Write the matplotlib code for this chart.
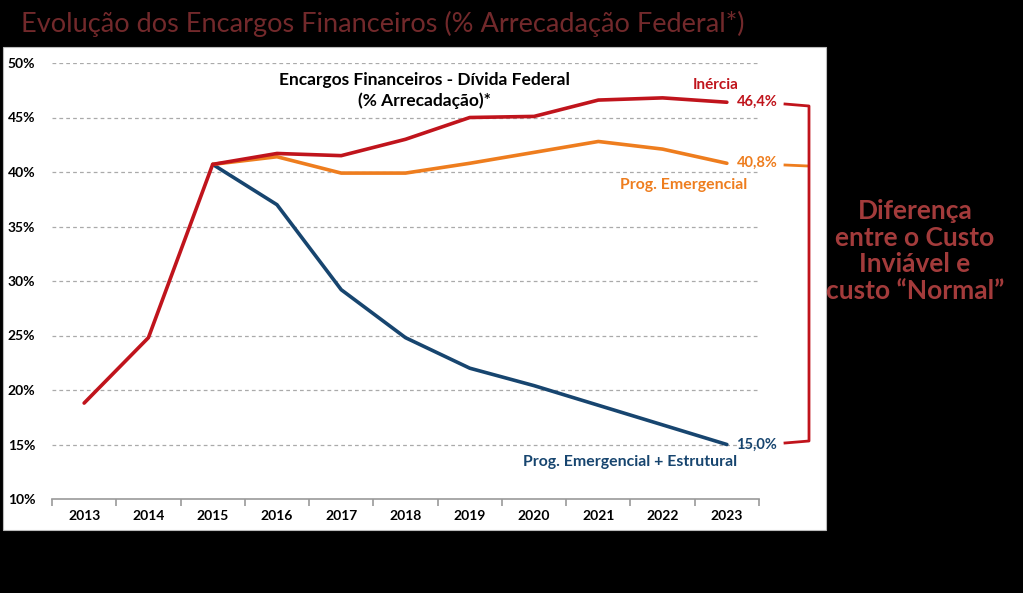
import numpy as np
import matplotlib.pyplot as plt
from matplotlib.patches import Rectangle
from matplotlib.lines import Line2D

anos = ["2013", "2014", "2015", "2016", "2017", "2018", "2019", "2020", "2021", "2022", "2023"]
inercia = [18.8, 24.8, 40.7, 41.7, 41.5, 43.0, 45.0, 45.1, 46.6, 46.8, 46.4]
emergencial = [None, None, 40.7, 41.4, 39.9, 39.9, 40.8, 41.8, 42.8, 42.1, 40.8]
estrutural = [None, None, 40.7, 37.0, 29.2, 24.8, 22.0, 20.4, 18.6, 16.8, 15.0]
yticks = [10, 15, 20, 25, 30, 35, 40, 45, 50]

VERM = "#c0141c"
LAR = "#ee7d1e"
AZUL = "#17456f"
TIT = "#72292b"

plt.rcParams['font.family'] = ['Lato', 'DejaVu Sans']

W, H = 1023, 593
fig = plt.figure(figsize=(W / 100, H / 100), dpi=100)
fig.patch.set_facecolor("black")

# painel branco atras do grafico
fig.patches.append(Rectangle((3 / W, 1 - 530 / H), 823 / W, 483 / H, transform=fig.transFigure,
                             facecolor="white", edgecolor="#bbbbbb", lw=0.8, zorder=-5))

ax = fig.add_axes([52 / W, 1 - 499 / H, 707 / W, 436 / H])
ax.set_facecolor("none")
x = np.arange(len(anos))

def serie(v):
    return np.array([np.nan if a is None else a for a in v], dtype=float)

ax.plot(x, serie(estrutural), color=AZUL, lw=2.6, solid_capstyle="round")
ax.plot(x, serie(emergencial), color=LAR, lw=2.6, solid_capstyle="round")
ax.plot(x, serie(inercia), color=VERM, lw=2.6, solid_capstyle="round")

ax.set_xlim(-0.5, 10.5)
ax.set_ylim(10, 50)
ax.set_yticks(yticks)
ax.set_yticklabels([f"{t}%" for t in yticks], fontsize=10, fontweight="bold")
for t in yticks[1:]:
    ax.axhline(t, color="#aaaaaa", lw=0.9, ls=(0, (3, 2.5)), zorder=0)
ax.set_xticks(x)
ax.set_xticklabels(anos, fontsize=10, fontweight="bold")
ax.set_xticks(np.arange(-0.5, 11, 1), minor=True)
ax.tick_params(axis="x", which="major", length=0, pad=8)
ax.tick_params(axis="x", which="minor", length=5, color="#999999", width=1.2)
ax.tick_params(axis="y", length=0, pad=12)
for s in ["top", "right", "left"]:
    ax.spines[s].set_visible(False)
ax.spines["bottom"].set_color("#999999")
ax.spines["bottom"].set_linewidth(1.2)

ax.text(5.3, 47.5, "Encargos Financeiros - Dívida Federal\n(% Arrecadação)*", ha="center", va="center",
        fontsize=12.5, fontweight="bold", linespacing=1.35)
ax.text(9.82, 48.0, "Inércia", color=VERM, fontsize=11, fontweight="bold", ha="center", va="center")
ax.text(10.15, inercia[-1], "46,4%", color=VERM, fontsize=10.5, fontweight="bold", va="center")
ax.text(10.15, emergencial[-1], "40,8%", color=LAR, fontsize=10.5, fontweight="bold", va="center")
ax.text(9.33, 38.8, "Prog. Emergencial", color=LAR, fontsize=11.4, fontweight="bold", ha="center", va="center")
ax.text(10.15, estrutural[-1], "15,0%", color=AZUL, fontsize=10.5, fontweight="bold", va="center")
ax.text(8.49, 13.4, "Prog. Emergencial + Estrutural", color=AZUL, fontsize=11.4, fontweight="bold",
        ha="center", va="center")

# chave vermelha
def fy(p):
    return 1 - p / H
def fx(p):
    return p / W
fig.add_artist(Line2D([fx(785), fx(808)], [fy(165), fy(166)], color=LAR, lw=2))
fig.add_artist(Line2D([fx(785), fx(809), fx(809), fx(785)], [fy(104), fy(106), fy(441), fy(443)],
                      color=VERM, lw=2, solid_joinstyle="round"))

fig.text(fx(383), fy(24), "Evolução dos Encargos Financeiros (% Arrecadação Federal*)", color=TIT,
         fontsize=19.5, ha="center", va="center")
fig.text(fx(915), fy(251), "Diferença\nentre o Custo\nInviável e\ncusto \u201cNormal\u201d", color="#a33b3b",
         fontsize=19, ha="center", va="center", fontweight="bold", linespacing=1.12)

fig.savefig("out.png", dpi=100, facecolor=fig.get_facecolor())
